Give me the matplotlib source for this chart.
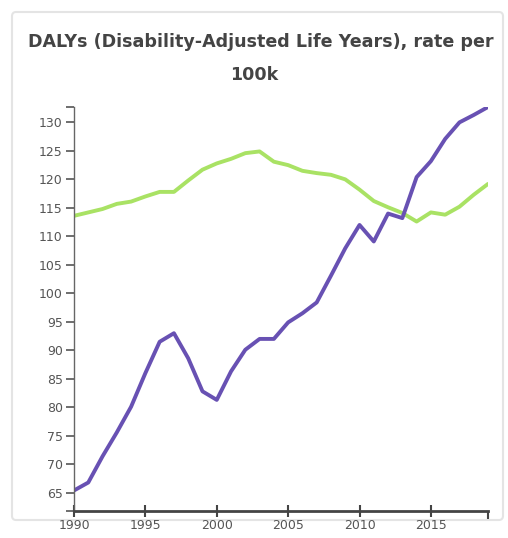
import matplotlib
matplotlib.use("Agg")
import matplotlib.pyplot as plt
from matplotlib.patches import FancyBboxPatch

years = list(range(1990, 2020))
series_purple = [65.4, 66.8, 71.4, 75.6, 80.1, 86.0, 91.5, 93.0, 88.6, 82.8,
                 81.3, 86.3, 90.1, 92.0, 92.0, 94.9, 96.5, 98.4, 103.1, 107.9,
                 112.0, 109.1, 114.0, 113.2, 120.4, 123.2, 127.1, 130.0, 131.3, 132.7]
series_green = [113.6, 114.2, 114.8, 115.7, 116.1, 117.0, 117.8, 117.8, 119.8, 121.7,
                122.8, 123.6, 124.6, 124.9, 123.1, 122.5, 121.5, 121.1, 120.8, 120.0,
                118.2, 116.2, 115.1, 114.1, 112.6, 114.2, 113.8, 115.2, 117.3, 119.2]
y_ticks = [65, 70, 75, 80, 85, 90, 95, 100, 105, 110, 115, 120, 125, 130]
x_ticks = [1990, 1995, 2000, 2005, 2010, 2015]
title = "DALYs (Disability-Adjusted Life Years), rate per\n100k"

W, H = 508, 538
fig = plt.figure(figsize=(W / 100, H / 100), dpi=100)

# card border
card = FancyBboxPatch((12 / W, 1 - 520 / H), (503 - 12) / W, (520 - 12) / H,
                      boxstyle="round,pad=0,rounding_size=0.008",
                      transform=fig.transFigure, facecolor="none",
                      edgecolor="#e4e4e4", linewidth=1.5, zorder=-1)
fig.patches.append(card)

ax = fig.add_axes([74 / W, 1 - 511 / H, (488 - 74) / W, (511 - 107) / H])
ax.set_facecolor("none")

ax.plot(years, series_green, color="#a9e264", linewidth=2.8, solid_capstyle="round",
        solid_joinstyle="round")
ax.plot(years, series_purple, color="#6851b3", linewidth=2.8, solid_capstyle="round",
        solid_joinstyle="round")

ylo, yhi = 61.8, 132.7
ax.set_xlim(years[0], years[-1])
ax.set_ylim(ylo, yhi)

ax.set_yticks(y_ticks)
ax.set_yticklabels([str(v) for v in y_ticks])
ax.set_xticks(x_ticks)
ax.set_xticklabels([str(v) for v in x_ticks])
# outer (domain-end) ticks
ax.set_yticks([ylo, yhi], minor=True)
ax.set_xticks([years[-1]], minor=True)

for s in ["top", "right"]:
    ax.spines[s].set_visible(False)
ax.spines["left"].set_color("#666666")
ax.spines["left"].set_linewidth(1.0)
ax.spines["bottom"].set_color("#444444")
ax.spines["bottom"].set_linewidth(2.0)

ax.tick_params(axis="y", which="both", direction="out", length=6, width=1.2,
               color="#555555", labelsize=9, labelcolor="#555555", pad=2)
ax.tick_params(axis="x", which="major", direction="inout", length=8, width=1.5,
               color="#444444", labelsize=9, labelcolor="#555555", pad=2)
ax.tick_params(axis="x", which="minor", direction="out", length=6, width=1.5,
               color="#444444")

fig.text(261 / W, 1 - 42 / H, title.split("\n")[0], ha="center", va="center",
         fontsize=12.6, fontweight="bold", color="#444444")
fig.text(254 / W, 1 - 75 / H, title.split("\n")[1], ha="center", va="center",
         fontsize=12.6, fontweight="bold", color="#444444")

fig.savefig("out.png", dpi=100)
